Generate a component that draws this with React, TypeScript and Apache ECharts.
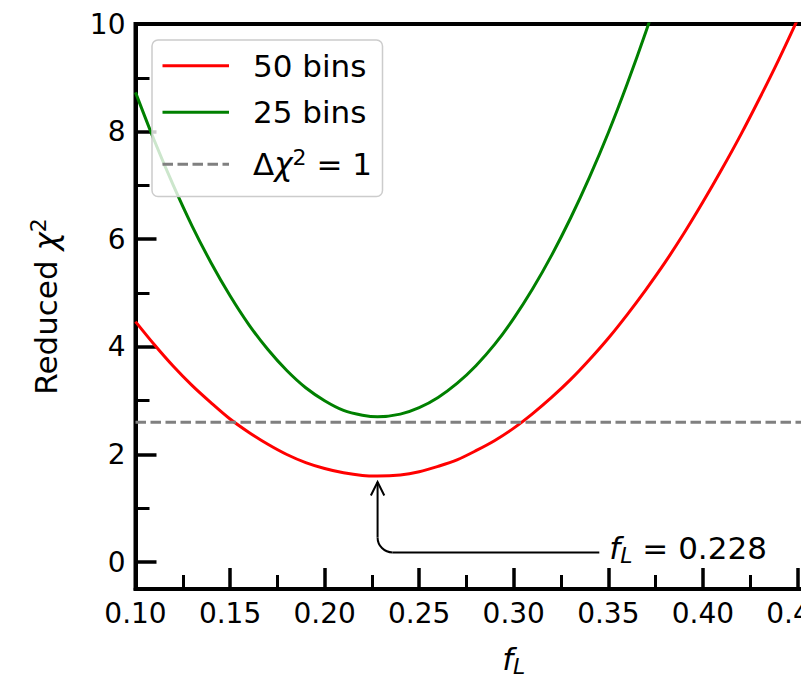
import React, { useEffect, useRef } from 'react';
import * as echarts from 'echarts';

// ---- data ----
const redX = [0.10, 0.11, 0.12, 0.13, 0.14, 0.15, 0.16, 0.17, 0.18, 0.19, 0.20, 0.21, 0.22, 0.228, 0.24, 0.25, 0.26, 0.27, 0.28, 0.29, 0.30, 0.31, 0.32, 0.33, 0.34, 0.35, 0.36, 0.37, 0.38, 0.39, 0.40, 0.41, 0.42, 0.43, 0.44, 0.45, 0.46];
const redY = [4.47, 4.04, 3.64, 3.28, 2.96, 2.66, 2.41, 2.19, 2.00, 1.85, 1.74, 1.66, 1.61, 1.60, 1.62, 1.68, 1.78, 1.90, 2.07, 2.26, 2.49, 2.76, 3.06, 3.39, 3.76, 4.16, 4.60, 5.07, 5.57, 6.11, 6.69, 7.30, 7.94, 8.62, 9.33, 10.08, 10.86];
const greenX = [0.10, 0.11, 0.12, 0.13, 0.14, 0.15, 0.16, 0.17, 0.18, 0.19, 0.20, 0.21, 0.22, 0.228, 0.24, 0.25, 0.26, 0.27, 0.28, 0.29, 0.30, 0.31, 0.32, 0.33, 0.34, 0.35, 0.36, 0.37, 0.38];
const greenY = [8.73, 7.83, 7.00, 6.24, 5.56, 4.95, 4.41, 3.95, 3.56, 3.24, 3.00, 2.82, 2.73, 2.70, 2.75, 2.87, 3.06, 3.32, 3.65, 4.05, 4.53, 5.08, 5.70, 6.39, 7.15, 7.98, 8.89, 9.87, 10.92];
const deltaLevel = 2.6;
const bestFL = 0.228;
const bestChi = 1.6;
const annotTextAt = [0.35, 0.18];

const xMajorTicks = [0.10, 0.15, 0.20, 0.25, 0.30, 0.35, 0.40, 0.45, 0.50];
const xMinorTicks = [0.125, 0.175, 0.225, 0.275, 0.325, 0.375, 0.425, 0.475];
const yMajorTicks = [0, 2, 4, 6, 8, 10];
const yMinorTicks = [1, 3, 5, 7, 9];
const xRange = [0.10, 0.50];
const yRange = [-0.5, 10];

const legendLabels = ['50 bins', '25 bins', '{n|Δ}{i|χ}{s|2}{n| = 1}'];

const FONT = 'DejaVu Sans';
const TICK_FS = 28;
const BIG_FS = 31;

export default function App() {
  const ref = useRef<HTMLDivElement>(null);

  useEffect(() => {
    const el = ref.current!;
    const chart = echarts.init(el, null, { renderer: 'svg' });

    const majorTick = { show: true, inside: true, length: 21, lineStyle: { color: '#000', width: 3.5 } };
    const minorTick = { show: true, inside: true, length: 14, lineStyle: { color: '#000', width: 3 } };

    const option: any = {
      animation: false,
      backgroundColor: '#fff',
      grid: {
        left: 135.5, width: 756.5, top: 24, bottom: 88,
        containLabel: false, outerBoundsMode: 'none',
        show: true, borderColor: '#000', borderWidth: 4, backgroundColor: 'transparent',
      },
      xAxis: [
        {
          type: 'value', min: xRange[0], max: xRange[1], position: 'bottom',
          axisLine: { show: true, onZero: false, lineStyle: { color: '#000', width: 4 } },
          axisTick: { ...majorTick, customValues: xMajorTicks },
          axisLabel: {
            customValues: xMajorTicks, margin: 10, color: '#000', fontFamily: FONT, fontSize: TICK_FS,
            formatter: (v: number) => v.toFixed(2),
          },
          splitLine: { show: false },
          name: '{i|f}{sub|L}', nameLocation: 'middle', nameGap: 52,
          nameTextStyle: {
            fontFamily: FONT, fontSize: BIG_FS, color: '#000',
            rich: {
              i: { fontFamily: FONT, fontSize: BIG_FS, fontStyle: 'italic', color: '#000', lineHeight: 36 },
              sub: { fontFamily: FONT, fontSize: 22, fontStyle: 'italic', color: '#000', lineHeight: 20, verticalAlign: 'bottom' },
            },
          },
        },
        {
          type: 'value', min: xRange[0], max: xRange[1], position: 'bottom',
          axisLine: { show: false, onZero: false },
          axisTick: { ...minorTick, customValues: xMinorTicks },
          axisLabel: { show: false },
          splitLine: { show: false },
        },
      ],
      yAxis: [
        {
          type: 'value', min: yRange[0], max: yRange[1], position: 'left',
          axisLine: { show: true, onZero: false, lineStyle: { color: '#000', width: 4 } },
          axisTick: { ...majorTick, customValues: yMajorTicks },
          axisLabel: { customValues: yMajorTicks, margin: 10, color: '#000', fontFamily: FONT, fontSize: TICK_FS },
          splitLine: { show: false },
          name: 'Reduced {i|χ}{s|2}', nameLocation: 'middle', nameGap: 72, nameRotate: 90,
          nameTextStyle: {
            fontFamily: FONT, fontSize: BIG_FS, color: '#000',
            rich: {
              i: { fontFamily: FONT, fontSize: BIG_FS, fontStyle: 'italic', color: '#000', lineHeight: 36 },
              s: { fontFamily: FONT, fontSize: 22, color: '#000', lineHeight: 22, verticalAlign: 'top' },
            },
          },
        },
        {
          type: 'value', min: yRange[0], max: yRange[1], position: 'left',
          axisLine: { show: false, onZero: false },
          axisTick: { ...minorTick, customValues: yMinorTicks },
          axisLabel: { show: false },
          splitLine: { show: false },
        },
      ],
      series: [
        {
          name: '50 bins', type: 'line', xAxisIndex: 0, yAxisIndex: 0,
          data: redX.map((x, i) => [x, redY[i]]), smooth: 0.3, showSymbol: false, clip: true,
          lineStyle: { color: '#ff0000', width: 3 }, z: 2,
        },
        {
          name: '25 bins', type: 'line', xAxisIndex: 0, yAxisIndex: 0,
          data: greenX.map((x, i) => [x, greenY[i]]), smooth: 0.3, showSymbol: false, clip: true,
          lineStyle: { color: '#008000', width: 3 }, z: 3,
        },
        {
          name: 'Δχ² = 1', type: 'line', xAxisIndex: 0, yAxisIndex: 0,
          data: [[xRange[0], deltaLevel], [xRange[1], deltaLevel]], showSymbol: false, clip: true,
          lineStyle: { color: '#808080', width: 3, type: [10.5, 4.5] }, z: 4,
        },
      ],
    };
    chart.setOption(option);

    const toPx = (p: number[]) => chart.convertToPixel({ gridIndex: 0 }, p) as number[];
    const P = toPx([bestFL, bestChi]);
    const T = toPx(annotTextAt);
    const tipY = P[1] + 6;
    const r = 15;
    const blk = { stroke: '#000', lineWidth: 2, fill: null };

    const legendColors = ['#ff0000', '#008000', '#808080'];
    const legendRows = [65.7, 112.3, 164.3];
    const legendEls: any[] = [
      {
        type: 'rect', z: 100,
        shape: { x: 152, y: 40, width: 230.5, height: 156.5, r: 6 },
        style: { fill: 'rgba(255,255,255,0.8)', stroke: '#cccccc', lineWidth: 1.5 },
      },
    ];
    legendLabels.forEach((lab, i) => {
      legendEls.push({
        type: 'line', z: 101,
        shape: { x1: 162.5, y1: legendRows[i], x2: 229, y2: legendRows[i] },
        style: { stroke: legendColors[i], lineWidth: 3, lineDash: i === 2 ? [10.5, 4.5] : null },
      });
      legendEls.push({
        type: 'text', z: 101,
        style: {
          text: lab, x: 253, y: legendRows[i], align: 'left', verticalAlign: 'middle',
          fill: '#000', fontFamily: FONT, fontSize: BIG_FS,
          rich: {
            n: { fontFamily: FONT, fontSize: BIG_FS, fill: '#000', lineHeight: 36 },
            i: { fontFamily: FONT, fontSize: BIG_FS, fontStyle: 'italic', fill: '#000', lineHeight: 36 },
            s: { fontFamily: FONT, fontSize: 22, fill: '#000', lineHeight: 22, verticalAlign: 'top' },
          },
        },
      });
    });

    const annotEls: any[] = [
      { type: 'line', z: 50, shape: { x1: P[0], y1: tipY, x2: P[0], y2: T[1] - r }, style: blk },
      {
        type: 'arc', z: 50,
        shape: { cx: P[0] + r, cy: T[1] - r, r, startAngle: Math.PI / 2, endAngle: Math.PI, clockwise: true },
        style: blk,
      },
      { type: 'line', z: 50, shape: { x1: P[0] + r, y1: T[1], x2: T[0] - 9, y2: T[1] }, style: blk },
      {
        type: 'polyline', z: 50,
        shape: { points: [[P[0] - 6.7, tipY + 13.5], [P[0], tipY], [P[0] + 6.7, tipY + 13.5]] },
        style: blk,
      },
      {
        type: 'text', z: 50,
        style: {
          text: '{i|f}{sub|L}{n| = 0.228}', x: T[0] + 1, y: T[1] - 4, align: 'left', verticalAlign: 'middle',
          fill: '#000', fontFamily: FONT, fontSize: BIG_FS,
          rich: {
            i: { fontFamily: FONT, fontSize: BIG_FS, fontStyle: 'italic', fill: '#000', lineHeight: 36 },
            sub: { fontFamily: FONT, fontSize: 22, fontStyle: 'italic', fill: '#000', lineHeight: 20, verticalAlign: 'bottom' },
            n: { fontFamily: FONT, fontSize: BIG_FS, fill: '#000', lineHeight: 36 },
          },
        },
      },
    ];

    chart.setOption({ graphic: [...annotEls, ...legendEls] });

    return () => chart.dispose();
  }, []);

  return (
    <div
      ref={ref}
      style={{ position: 'absolute', left: 0, top: 0, width: 801, height: 677, background: '#fff' }}
    />
  );
}
